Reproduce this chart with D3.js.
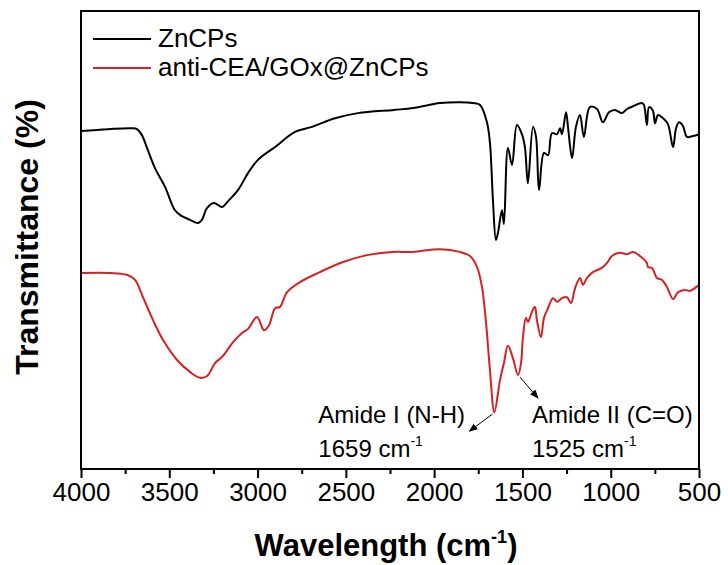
<!DOCTYPE html>
<html>
<head>
<meta charset="utf-8">
<script src="https://cdn.jsdelivr.net/npm/d3@7"></script>
<style>
  body { margin: 0; background: #fff; }
  text { font-family: Arial, "Liberation Sans", sans-serif; }
</style>
</head>
<body>
<div id="chart"></div>
<script>
// wavenumber (cm-1) and transmittance (a.u. %)
var znWave = [4000,3847,3711,3683,3655,3626,3581,3524,3468,3428,3383,3337,3315,3286,3247,3201,3167,3111,3054,2998,2901,2788,2692,2562,2431,2228,2120,1967,1854,1780,1740,1701,1684,1667,1650,1638,1616,1605,1582,1559,1531,1503,1486,1469,1440,1423,1406,1378,1355,1333,1304,1287,1276,1253,1242,1219,1197,1174,1152,1118,1078,1044,1010,976,936,908,874,823,812,795,783,761,749,732,704,676,647,630,613,591,568,534,500];
var znT = [73.8,74.2,74.4,74.2,72.9,70.1,65.7,61.6,56.5,55.2,54.4,53.7,54.4,57.0,58.1,57.2,58.5,60.9,64.6,67.5,70.3,73.6,74.7,76.6,77.7,78.4,78.8,79.9,80.1,79.9,79.5,75.7,71.2,58.7,50.0,51.7,56.5,53.5,70.1,66.4,75.1,73.1,70.3,62.4,74.7,72.5,60.9,69.0,68.5,73.3,73.1,74.4,73.1,77.9,74.7,67.9,74.7,77.3,72.5,79.0,78.6,75.7,77.9,78.4,77.7,78.6,79.2,79.9,79.5,75.1,79.0,78.2,75.5,77.3,76.6,75.3,70.3,74.4,75.7,74.9,72.5,72.7,73.1];

var abWave = [4000,3836,3740,3694,3649,3592,3536,3456,3383,3326,3286,3241,3196,3139,3088,3054,3003,2964,2935,2901,2873,2833,2760,2647,2516,2380,2233,2120,1967,1854,1797,1757,1729,1706,1684,1659,1627,1605,1582,1554,1525,1508,1497,1480,1469,1446,1429,1418,1395,1378,1355,1327,1304,1276,1248,1225,1202,1174,1157,1135,1101,1050,1021,993,948,908,874,834,795,789,766,738,710,681,647,619,580,551,500];
var abT = [42.8,42.8,42.4,41.3,37.5,32.5,28.2,23.8,21.2,19.9,20.3,23.1,24.7,27.7,29.7,30.6,33.2,30.3,31.4,35.1,35.4,38.6,40.8,43.0,45.2,46.7,47.4,47.4,48.0,47.4,46.5,44.1,39.7,31.9,21.6,12.4,19.4,23.1,26.9,24.2,20.5,23.1,28.8,33.0,32.1,34.3,35.4,32.5,28.8,33.0,35.1,37.3,36.5,37.3,37.5,36.2,39.5,41.7,40.2,41.7,43.0,43.9,45.0,46.5,47.2,46.9,47.4,46.5,45.0,44.1,43.9,41.7,41.3,39.7,37.1,38.6,39.1,38.9,40.2];

var seriesNames = ["ZnCPs", "anti-CEA/GOx@ZnCPs"];
var seriesColors = ["#000000", "#d42222"];
var majorTicks = [4000,3500,3000,2500,2000,1500,1000,500];
var minorTicks = [3750,3250,2750,2250,1750,1250,750];
var peaks = [
  {wave: 1659, T: 12.4, name: "Amide I (N-H)", pos: "1659"},
  {wave: 1525, T: 20.5, name: "Amide II (C=O)", pos: "1525"}
];

var W = 728, H = 565;
var margin = {left: 81, right: 29, top: 11, bottom: 96};

var svg = d3.select("#chart").append("svg")
  .attr("width", W).attr("height", H);

var x = d3.scaleLinear().domain([4000, 500]).range([margin.left, W - margin.right]);
var y = d3.scaleLinear().domain([0, 100]).range([H - margin.bottom, margin.top]);

var line = d3.line()
  .x(function(d) { return x(d[0]); })
  .y(function(d) { return y(d[1]); })
  .curve(d3.curveCatmullRom.alpha(0.5));

var series = [d3.zip(znWave, znT), d3.zip(abWave, abT)];

svg.selectAll(".spec").data(series).enter().append("path")
  .attr("class", "spec")
  .attr("d", line)
  .attr("fill", "none")
  .attr("stroke", function(d, i) { return seriesColors[i]; })
  .attr("stroke-width", 2)
  .attr("stroke-linejoin", "round");

// frame
svg.append("rect")
  .attr("x", x(4000)).attr("y", y(100))
  .attr("width", x(500) - x(4000)).attr("height", y(0) - y(100))
  .attr("fill", "none").attr("stroke", "#000").attr("stroke-width", 2);

// x axis
var xAxis = svg.append("g")
  .attr("transform", "translate(0," + y(0) + ")")
  .call(d3.axisBottom(x).tickValues(majorTicks).tickSize(9).tickPadding(5).tickFormat(d3.format("d")));
xAxis.select(".domain").remove();
xAxis.selectAll("line").attr("stroke-width", 2);
xAxis.selectAll("text").attr("font-size", 26).attr("fill", "#000")
  .style("font-family", "Arial, 'Liberation Sans', sans-serif");

var xMinor = svg.append("g")
  .attr("transform", "translate(0," + y(0) + ")")
  .call(d3.axisBottom(x).tickValues(minorTicks).tickSize(5).tickFormat(""));
xMinor.select(".domain").remove();
xMinor.selectAll("line").attr("stroke-width", 2);

// axis titles
var xt = svg.append("text")
  .attr("x", (x(4000) + x(500)) / 2 - 4).attr("y", 556)
  .attr("text-anchor", "middle")
  .attr("font-size", 31).attr("font-weight", "bold");
xt.append("tspan").text("Wavelength (cm");
xt.append("tspan").text("-1").attr("font-size", 18).attr("dy", -13);
xt.append("tspan").text(")").attr("dy", 13);

svg.append("text")
  .attr("transform", "translate(38," + (y(50) - 3) + ") rotate(-90)")
  .attr("text-anchor", "middle")
  .attr("font-size", 32).attr("font-weight", "bold")
  .text("Transmittance (%)");

// legend
var legend = svg.append("g");
seriesNames.forEach(function(name, i) {
  var ly = 39 + i * 29;
  legend.append("line")
    .attr("x1", 93).attr("x2", 151).attr("y1", ly).attr("y2", ly)
    .attr("stroke", seriesColors[i]).attr("stroke-width", 2);
  legend.append("text")
    .attr("x", 158).attr("y", ly + 1)
    .attr("font-size", 26).attr("dominant-baseline", "middle")
    .text(name);
});

// arrows and peak labels
svg.append("defs").append("marker")
  .attr("id", "arr").attr("viewBox", "0 0 10 10")
  .attr("refX", 9).attr("refY", 5)
  .attr("markerWidth", 9).attr("markerHeight", 9)
  .attr("markerUnits", "userSpaceOnUse")
  .attr("orient", "auto")
  .append("path").attr("d", "M0,1 L10,5 L0,9 Z").attr("fill", "#000");

var arrowOff = [[-2, 2, -25, 19], [2, 2, 20, 23]];
var labelPos = [[-176, 11], [14, 11]];
peaks.forEach(function(p, i) {
  var px = x(p.wave), py = y(p.T), o = arrowOff[i];
  svg.append("line")
    .attr("x1", px + o[0]).attr("y1", py + o[1])
    .attr("x2", px + o[2]).attr("y2", py + o[3])
    .attr("stroke", "#000").attr("stroke-width", 1)
    .attr("marker-end", "url(#arr)");
  var lx = px + labelPos[i][0];
  svg.append("text")
    .attr("x", lx).attr("y", 423)
    .attr("font-size", 24)
    .text(p.name);
  var t2 = svg.append("text")
    .attr("x", lx).attr("y", 457)
    .attr("font-size", 24);
  t2.append("tspan").text(p.pos + " cm");
  t2.append("tspan").text("-1").attr("font-size", 14).attr("dy", -11);
});
</script>
</body>
</html>
